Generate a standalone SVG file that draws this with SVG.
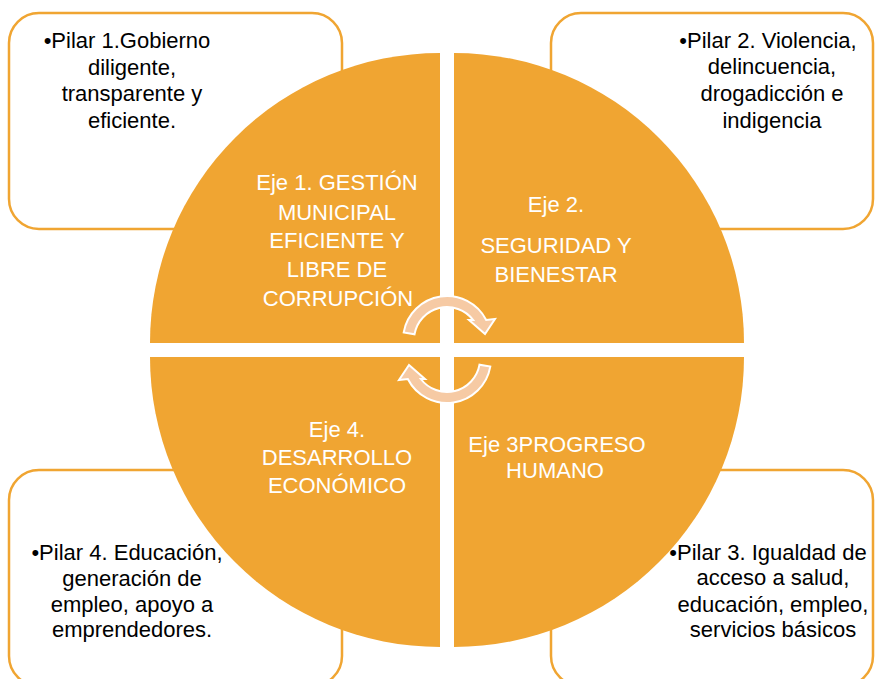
<svg xmlns="http://www.w3.org/2000/svg" width="875" height="679" viewBox="0 0 875 679">
<style>
.box{fill:#ffffff;stroke:#F0A532;stroke-width:2.5}
.q{fill:#F0A532}
.bt{font-family:"Liberation Sans",Arial,sans-serif;font-size:22px;fill:#000000;text-anchor:middle}
.qt{font-family:"Liberation Sans",Arial,sans-serif;font-size:22px;fill:#ffffff;text-anchor:middle}
.arr{fill:#F6CAA4;stroke:#ffffff;stroke-width:2}
</style>
<rect width="875" height="679" fill="#ffffff"/>
<g id="pilar1">
<rect class="box" x="9" y="13" width="333" height="216" rx="30"/>
<text class="bt" x="127" y="48">•Pilar 1.Gobierno</text>
<text class="bt" x="132" y="75">diligente,</text>
<text class="bt" x="132" y="101">transparente y</text>
<text class="bt" x="132" y="128">eficiente.</text>
</g>
<g id="pilar2">
<rect class="box" x="551" y="13" width="322" height="216" rx="30"/>
<text class="bt" x="768" y="48">•Pilar 2. Violencia,</text>
<text class="bt" x="772" y="74">delincuencia,</text>
<text class="bt" x="772" y="101">drogadicción e</text>
<text class="bt" x="772" y="128">indigencia</text>
</g>
<g id="pilar4">
<rect class="box" x="9" y="470" width="333" height="216" rx="30"/>
<text class="bt" x="127" y="560">•Pilar 4. Educación,</text>
<text class="bt" x="132" y="586">generación de</text>
<text class="bt" x="132" y="612">empleo, apoyo a</text>
<text class="bt" x="132" y="637">emprendedores.</text>
</g>
<g id="pilar3">
<rect class="box" x="551" y="470" width="322" height="216" rx="30"/>
<text class="bt" x="768" y="560">•Pilar 3. Igualdad de</text>
<text class="bt" x="773" y="585">acceso a salud,</text>
<text class="bt" x="773" y="612">educación, empleo,</text>
<text class="bt" x="773" y="637">servicios básicos</text>
</g>
<g id="eje1">
<path class="q" d="M440,343 L150,343 A290,290 0 0 1 440,53 Z"/>
<text class="qt" x="337" y="190">Eje 1. GESTIÓN</text>
<text class="qt" x="337" y="220">MUNICIPAL</text>
<text class="qt" x="337" y="248">EFICIENTE Y</text>
<text class="qt" x="337" y="277">LIBRE DE</text>
<text class="qt" x="338" y="306">CORRUPCIÓN</text>
</g>
<g id="eje2">
<path class="q" d="M454,343 L454,53 A290,290 0 0 1 744,343 Z"/>
<text class="qt" x="556" y="212">Eje 2.</text>
<text class="qt" x="556" y="253">SEGURIDAD Y</text>
<text class="qt" x="556" y="282">BIENESTAR</text>
</g>
<g id="eje3">
<path class="q" d="M454,357 L744,357 A290,290 0 0 1 454,647 Z"/>
<text class="qt" x="557" y="452">Eje 3PROGRESO</text>
<text class="qt" x="555" y="478">HUMANO</text>
</g>
<g id="eje4">
<path class="q" d="M440,357 L440,647 A290,290 0 0 1 150,357 Z"/>
<text class="qt" x="337" y="437">Eje 4.</text>
<text class="qt" x="337" y="465">DESARROLLO</text>
<text class="qt" x="337" y="493">ECONÓMICO</text>
</g>
<g id="connectors">
<path id="arrowTop" class="arr" d="M403.7,332.4 A44,44 0 0 1 486.2,320 L495,319 L485,334 L469,320 L473.2,320 A33,33 0 0 0 414.5,334.3 Z"/>
<path id="arrowBottom" class="arr" transform="rotate(180 447 349.5)" d="M403.7,332.4 A44,44 0 0 1 486.2,320 L495,319 L485,334 L469,320 L473.2,320 A33,33 0 0 0 414.5,334.3 Z"/>
</g>
</svg>
